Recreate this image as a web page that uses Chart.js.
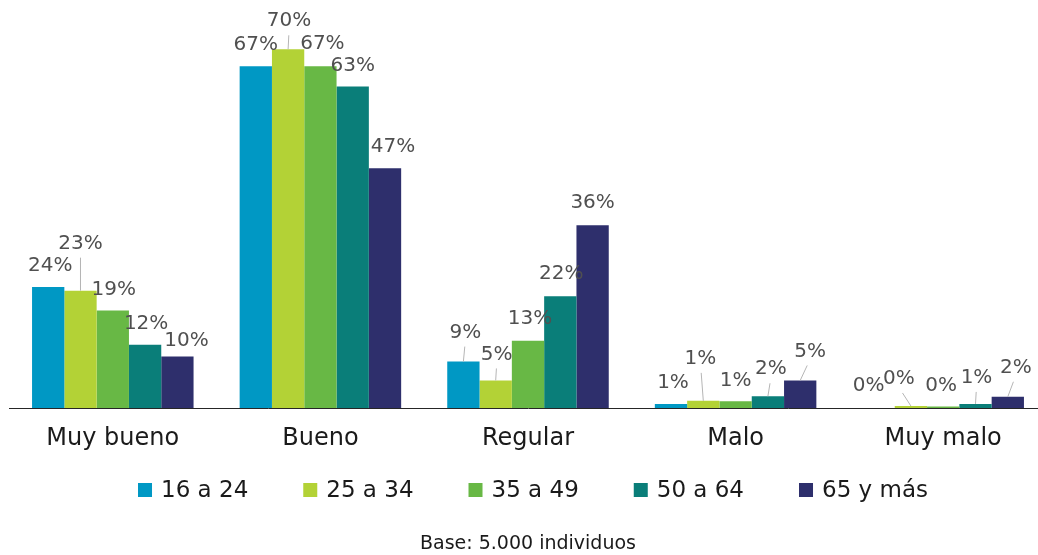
<!DOCTYPE html>
<html lang="es">
<head>
<meta charset="utf-8">
<title>Valoración por edad</title>
<script src="https://cdn.jsdelivr.net/npm/chart.js@4/dist/chart.umd.min.js"></script>
<style>
  html, body { margin: 0; padding: 0; background: #fff; overflow: hidden; }
  #marco { width: 1056px; height: 555px; }
</style>
</head>
<body>
<div id="marco"><canvas id="grafico"></canvas></div>
<script>
// Datos (%)
const categorias = ['Muy bueno', 'Bueno', 'Regular', 'Malo', 'Muy malo'];
const grupos = ['16 a 24', '25 a 34', '35 a 49', '50 a 64', '65 y más'];
const edad16a24 = [23.7, 67, 9.1, 0.8, 0];
const edad25a34 = [23.0, 70.3, 5.4, 1.4, 0.4];
const edad35a49 = [19.1, 67, 13.2, 1.3, 0.3];
const edad50a64 = [12.4, 63, 21.9, 2.3, 0.8];
const edad65mas = [10.1, 47, 35.8, 5.4, 2.2];
const pie = 'Base: 5.000 individuos';

const colores = ['#0098c4', '#b3d236', '#68b845', '#0a7e79', '#2e2f6c'];

// desplazamiento de cada etiqueta respecto a la parte alta de su barra [dx, dy]
const desplazamientos = [
    [[2, -21], [0, -21], [2, -29], [2, -21], [-10, -22]],
    [[0, -47], [1, -28], [1, -26], [-3, -42], [-12, -27]],
    [[1, -21], [2, -22], [2, -22], [0, -21], [-2, -21]],
    [[1, -21], [0, -21], [1, -22], [3, -27], [1, -26]],
    [[9, -16], [8, -21], [0, -23], [10, -29], [8, -29]]
];

const fuente = '"DejaVu Sans", Verdana, sans-serif';
Chart.defaults.font.family = fuente;

// Etiquetas de datos con líneas guía cuando se han separado de la barra
const etiquetas = {
    id: 'etiquetas',
    afterDatasetsDraw(chart) {
        const ctx = chart.ctx;
        ctx.save();
        ctx.font = '20px ' + fuente;
        ctx.textAlign = 'center';
        ctx.textBaseline = 'middle';
        chart.data.datasets.forEach((ds, i) => {
            chart.getDatasetMeta(i).data.forEach((barra, j) => {
                const [dx, dy] = desplazamientos[i][j];
                const x = barra.x + dx;
                const y = barra.y + dy;
                if (dy < -24) {
                    ctx.strokeStyle = '#b5b5b5';
                    ctx.lineWidth = 1;
                    ctx.beginPath();
                    ctx.moveTo(barra.x, barra.y);
                    ctx.lineTo(x + (barra.x - x) * 0.3, y + 14);
                    ctx.stroke();
                }
                ctx.fillStyle = '#505050';
                ctx.fillText(Math.round(ds.data[j]) + '%', x, y);
            });
        });
        ctx.restore();
    }
};

// Leyenda propia: cuadrados pequeños y mucho aire entre elementos
const leyenda = {
    id: 'leyenda',
    afterDraw(chart) {
        const ctx = chart.ctx;
        const caja = 14, hueco = 9, separacion = 55;
        const y = 490;
        ctx.save();
        ctx.font = '23px ' + fuente;
        ctx.textBaseline = 'middle';
        ctx.textAlign = 'left';
        const anchos = chart.data.datasets.map(ds => ctx.measureText(ds.label).width);
        const total = anchos.reduce((s, a) => s + caja + hueco + a, 0) + separacion * (anchos.length - 1);
        let x = 533 - total / 2;
        chart.data.datasets.forEach((ds, i) => {
            ctx.fillStyle = ds.backgroundColor;
            ctx.fillRect(x, y - caja / 2, caja, caja);
            ctx.fillStyle = '#1a1a1a';
            ctx.fillText(ds.label, x + caja + hueco, y + 1);
            x += caja + hueco + anchos[i] + separacion;
        });
        ctx.restore();
    }
};

const series = [edad16a24, edad25a34, edad35a49, edad50a64, edad65mas];

new Chart(document.getElementById('grafico'), {
    type: 'bar',
    data: {
        labels: categorias,
        datasets: series.map((valores, i) => ({
            label: grupos[i],
            data: valores,
            backgroundColor: colores[i],
            borderWidth: 0,
            barPercentage: 1,
            categoryPercentage: 0.778
        }))
    },
    options: {
        responsive: true,
        maintainAspectRatio: false,
        animation: false,
        layout: { padding: { top: 10, left: 9, right: 9, bottom: 0 } },
        scales: {
            x: {
                grid: { display: false },
                border: { display: true, color: '#262626', width: 1 },
                ticks: { color: '#1a1a1a', font: { size: 24 }, padding: 8.5 }
            },
            y: {
                display: false,
                min: 0,
                max: 78
            }
        },
        plugins: {
            legend: { display: false },
            title: {
                display: true,
                text: pie,
                position: 'bottom',
                color: '#1a1a1a',
                font: { size: 19, weight: 'normal' },
                padding: { top: 70.4, bottom: 0 }
            },
            tooltip: { enabled: false }
        }
    },
    plugins: [etiquetas, leyenda]
});
</script>
</body>
</html>
